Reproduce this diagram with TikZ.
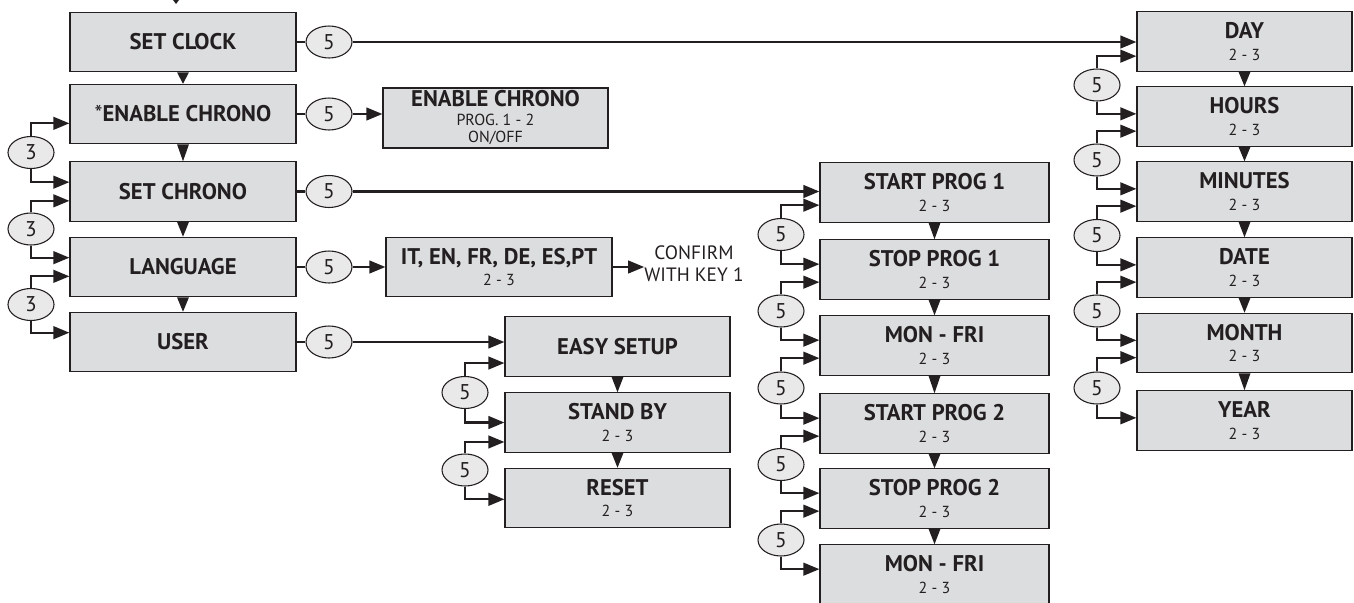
\documentclass[tikz,border=0pt]{standalone}
\usepackage{fontspec}
\setmainfont{PT Sans}
\usetikzlibrary{arrows.meta,positioning,calc,shapes.geometric}

\definecolor{boxgray}{RGB}{220,221,222}
\definecolor{ovalgray}{RGB}{233,233,234}
\definecolor{ink}{RGB}{35,31,32}

\newcommand{\subtxt}[1]{{\mdseries\fontsize{12}{13}\selectfont #1}}

\begin{document}
\begin{tikzpicture}[x=0.75pt, y=-0.75pt,
    box/.style={draw=ink, fill=boxgray, line width=0.9pt, minimum width=169.5pt, minimum height=44.5pt, inner sep=0pt, align=center, text=ink, font=\bfseries\fontsize{17}{18}\selectfont},
    mbox/.style={box, minimum width=171.75pt},
    rbox/.style={box, minimum width=161.25pt},
    oval/.style={ellipse, draw=ink, fill=ovalgray, line width=0.8pt, minimum width=34.5pt, minimum height=24pt, inner sep=0pt, text=ink, font=\fontsize{16}{17}\selectfont},
    arrow/.style={-{Triangle[length=12pt, width=9.5pt]}, line width=1.6pt, draw=ink},
    wire/.style={line width=1.6pt, draw=ink}
]
\useasboundingbox (0,0) rectangle (1354,603);

% main menu
\node[box] (clock) at (183,42) {SET CLOCK};
\node[box] (enable) at (183,114) {{\mdseries *}ENABLE CHRONO};
\node[box] (chrono) at (183,191.5) {SET CHRONO};
\node[box] (lang) at (183,267) {LANGUAGE};
\node[box] (user) at (183,342) {USER};

% key 3 between menu items
\node[oval] (t1) at (31,152.5) {3};
\node[oval] (t2) at (31,229) {3};
\node[oval] (t3) at (31,304.5) {3};
\draw[arrow] (t1.north) |- ([yshift=-7pt]enable.west);
\draw[arrow] (t1.south) |- ([yshift=7pt]chrono.west);
\draw[arrow] (t2.north) |- ([yshift=-7pt]chrono.west);
\draw[arrow] (t2.south) |- ([yshift=7pt]lang.west);
\draw[arrow] (t3.north) |- ([yshift=-7pt]lang.west);
\draw[arrow] (t3.south) |- ([yshift=7pt]user.west);

% key 5 out of each item
\node[oval] (o1) at (329,42) {5};
\node[oval] (o2) at (329,114) {5};
\node[oval] (o3) at (329,191.5) {5};
\node[oval] (o4) at (329,267) {5};
\node[oval] (o5) at (329,342) {5};
\draw[wire] (clock.east) -- (o1.west);
\draw[wire] (enable.east) -- (o2.west);
\draw[wire] (chrono.east) -- (o3.west);
\draw[wire] (lang.east) -- (o4.west);
\draw[wire] (user.east) -- (o5.west);

% enable chrono
\node[box, minimum width=168.75pt, minimum height=45pt] (enab) at (495.5,118) {ENABLE CHRONO\\[-4pt]\subtxt{PROG. 1 - 2}\\[-5pt]\subtxt{ON/OFF}};
\draw[arrow] (o2.east) -- (o2.east -| enab.west);

% language
\node[box] (langs) at (499,267) {IT, EN, FR, DE, ES,PT\\[-2pt]\subtxt{2 - 3}};
\node[text=ink, align=center, inner sep=0pt, font=\fontsize{14.5}{16.5}\selectfont] (confirm) at (694,264) {CONFIRM\\WITH KEY 1};
\draw[arrow] (o4.east) -- (langs.west);
\draw[arrow] (langs.east) -- (langs.east -| confirm.west);

% user
\node[box, minimum width=168.75pt] (easy) at (617.5,346.5) {EASY SETUP};
\node[box, minimum width=168.75pt] (stand) at (617.5,422.5) {STAND BY\\[-2pt]\subtxt{2 - 3}};
\node[box, minimum width=168.75pt] (reset) at (617.5,498) {RESET\\[-2pt]\subtxt{2 - 3}};
\draw[arrow] (o5.east) -- (o5.east -| easy.west);
\node[oval] (e1) at (465,392.5) {5};
\node[oval] (e2) at (465,470) {5};
\draw[arrow] (e1.north) |- ([yshift=-12.4pt]easy.west);
\draw[arrow] (e1.south) |- (stand.west);
\draw[arrow] (e2.north) |- ([yshift=-14.6pt]stand.west);
\draw[arrow] (e2.south) |- ([yshift=-1pt]reset.west);

% set chrono
\node[mbox] (sp1) at (934.5,192.5) {START PROG 1\\[-2pt]\subtxt{2 - 3}};
\node[mbox] (tp1) at (934.5,269.5) {STOP PROG 1\\[-2pt]\subtxt{2 - 3}};
\node[mbox] (mf1) at (934.5,345.5) {MON - FRI\\[-2pt]\subtxt{2 - 3}};
\node[mbox] (sp2) at (934.5,423.5) {START PROG 2\\[-2pt]\subtxt{2 - 3}};
\node[mbox] (tp2) at (934.5,498.5) {STOP PROG 2\\[-2pt]\subtxt{2 - 3}};
\node[mbox] (mf2) at (934.5,574.5) {MON - FRI\\[-2pt]\subtxt{2 - 3}};
\draw[arrow] (o3.east) -- (o3.east -| sp1.west);
\node[oval] (m1) at (781,234.5) {5};
\node[oval] (m2) at (781,311) {5};
\node[oval] (m3) at (781,388) {5};
\node[oval] (m4) at (781,464.5) {5};
\node[oval] (m5) at (781,540) {5};
\draw[arrow] (m1.north) |- ([yshift=-9.5pt]sp1.west);
\draw[arrow] (m1.south) |- ([yshift=4pt]tp1.west);
\draw[arrow] (m2.north) |- ([yshift=-9.5pt]tp1.west);
\draw[arrow] (m2.south) |- ([yshift=4pt]mf1.west);
\draw[arrow] (m3.north) |- ([yshift=-9.5pt]mf1.west);
\draw[arrow] (m3.south) |- ([yshift=4pt]sp2.west);
\draw[arrow] (m4.north) |- ([yshift=-9.5pt]sp2.west);
\draw[arrow] (m4.south) |- ([yshift=4pt]tp2.west);
\draw[arrow] (m5.north) |- ([yshift=-9.5pt]tp2.west);
\draw[arrow] (m5.south) |- ([yshift=4pt]mf2.west);

% set clock
\node[rbox] (day) at (1244.5,41.5) {DAY\\[-2pt]\subtxt{2 - 3}};
\node[rbox] (hours) at (1244.5,116.5) {HOURS\\[-2pt]\subtxt{2 - 3}};
\node[rbox] (minutes) at (1244.5,191.5) {MINUTES\\[-2pt]\subtxt{2 - 3}};
\node[rbox] (date) at (1244.5,267.5) {DATE\\[-2pt]\subtxt{2 - 3}};
\node[rbox] (month) at (1244.5,343) {MONTH\\[-2pt]\subtxt{2 - 3}};
\node[rbox] (year) at (1244.5,420.5) {YEAR\\[-2pt]\subtxt{2 - 3}};
\draw[arrow] (o1.east) -- (o1.east -| day.west);
\node[oval] (f1) at (1097,85) {5};
\node[oval] (f2) at (1097,160) {5};
\node[oval] (f3) at (1097,235.5) {5};
\node[oval] (f4) at (1097,311) {5};
\node[oval] (f5) at (1097,388) {5};
\draw[arrow] (f1.north) |- ([yshift=-11pt]day.west);
\draw[arrow] (f1.south) |- ([yshift=2pt]hours.west);
\draw[arrow] (f2.north) |- ([yshift=-11pt]hours.west);
\draw[arrow] (f2.south) |- ([yshift=2pt]minutes.west);
\draw[arrow] (f3.north) |- ([yshift=-11pt]minutes.west);
\draw[arrow] (f3.south) |- ([yshift=2pt]date.west);
\draw[arrow] (f4.north) |- ([yshift=-11pt]date.west);
\draw[arrow] (f4.south) |- ([yshift=2pt]month.west);
\draw[arrow] (f5.north) |- ([yshift=-11pt]month.west);
\draw[arrow] (f5.south) |- ([yshift=2pt]year.west);

% down tips between items
\coordinate (entry) at (176,4);
\fill[ink] ([xshift=-3pt,yshift=4pt]entry) -- ([xshift=3pt,yshift=4pt]entry) -- (entry) -- cycle;
\foreach \a/\b in {clock/enable, enable/chrono, chrono/lang, lang/user, easy/stand, stand/reset,
    sp1/tp1, tp1/mf1, mf1/sp2, sp2/tp2, tp2/mf2, day/hours, hours/minutes, minutes/date, date/month, month/year}
  \fill[ink] ([xshift=-4.5pt]\a.south) -- ([xshift=4.5pt]\a.south) -- (\b.north) -- cycle;

\end{tikzpicture}
\end{document}
